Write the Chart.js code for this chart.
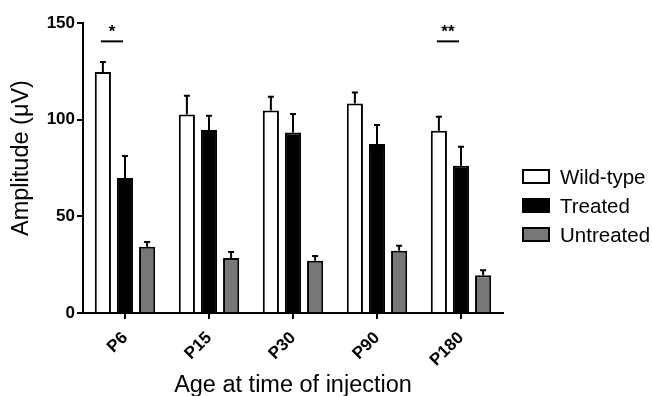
<!DOCTYPE html>
<html>
<head>
<meta charset="utf-8">
<script src="https://cdn.jsdelivr.net/npm/chart.js@4/dist/chart.umd.min.js"></script>
<style>
    html, body { margin: 0; padding: 0; background: #fff; }
    #wrap { position: relative; width: 652px; height: 396px; }
    #legend { position: absolute; left: 522px; top: 162px; font-family: "Liberation Sans", Arial, sans-serif; font-size: 20.5px; color: #000; }
    .row { display: flex; align-items: center; height: 29px; }
    .box { width: 24px; height: 11px; border: 2px solid #000; margin-right: 10px; }
</style>
</head>
<body>
<div id="wrap">
    <canvas id="chart" width="652" height="396"></canvas>
    <div id="legend"></div>
</div>
<script>
const categories = ['P6', 'P15', 'P30', 'P90', 'P180'];
const seriesNames = ['Wild-type', 'Treated', 'Untreated'];
const wildType = [124.6, 102.7, 104.8, 108.4, 94.3];
const wildTypeErr = [5.2, 9.7, 7.0, 5.7, 7.2];
const treated = [69.8, 94.6, 93.4, 87.4, 76.2];
const treatedErr = [11.4, 7.4, 9.5, 9.8, 9.8];
const untreated = [34.3, 28.4, 27.0, 32.2, 19.5];
const untreatedErr = [2.4, 3.1, 2.5, 2.6, 2.6];
const yTicks = [0, 50, 100, 150];
const sigIndex = [0, 4];
const sigText = ['*', '**'];
const sigLevel = 140.5;
const yTitle = 'Amplitude (μV)';

const fillColors = ['#ffffff', '#000000', '#777777'];
const errors = [wildTypeErr, treatedErr, untreatedErr];

// error bars, upward only
const errorBars = {
    id: 'errorBars',
    afterDatasetsDraw(chart) {
        const ctx = chart.ctx;
        const y = chart.scales.y;
        ctx.save();
        ctx.strokeStyle = '#000';
        ctx.lineWidth = 2;
        chart.data.datasets.forEach((ds, i) => {
            const meta = chart.getDatasetMeta(i);
            meta.data.forEach((bar, j) => {
                const top = y.getPixelForValue(ds.data[j] + errors[i][j]);
                ctx.beginPath();
                ctx.moveTo(bar.x, bar.y);
                ctx.lineTo(bar.x, top);
                ctx.moveTo(bar.x - 3, top);
                ctx.lineTo(bar.x + 3, top);
                ctx.stroke();
            });
        });
        ctx.restore();
    }
};

// significance lines between wild-type and treated, plus the y title
const sigMarks = {
    id: 'sigMarks',
    afterDraw(chart) {
        const ctx = chart.ctx;
        const yPix = chart.scales.y.getPixelForValue(sigLevel);
        const m0 = chart.getDatasetMeta(0), m1 = chart.getDatasetMeta(1);
        ctx.save();
        ctx.strokeStyle = '#000';
        ctx.lineWidth = 2;
        ctx.fillStyle = '#000';
        ctx.font = 'bold 17px "Liberation Sans", Arial, sans-serif';
        ctx.textAlign = 'center';
        ctx.textBaseline = 'alphabetic';
        sigIndex.forEach((idx, k) => {
            const x0 = m0.data[idx].x - 2;
            const x1 = m1.data[idx].x - 2;
            ctx.beginPath();
            ctx.moveTo(x0, yPix);
            ctx.lineTo(x1, yPix);
            ctx.stroke();
            ctx.fillText(sigText[k], (x0 + x1) / 2, yPix - 4);
        });

        const area = chart.chartArea;
        ctx.font = '23.5px "Liberation Sans", Arial, sans-serif';
        ctx.textBaseline = 'middle';
        ctx.translate(22, (area.top + area.bottom) / 2 - 10);
        ctx.rotate(-Math.PI / 2);
        ctx.fillText(yTitle, 0, 0);
        ctx.restore();
    }
};

const datasets = seriesNames.map((name, i) => ({
    label: name,
    data: [wildType, treated, untreated][i],
    backgroundColor: fillColors[i],
    borderColor: '#000',
    borderWidth: 2,
    categoryPercentage: 0.79,
    barPercentage: 0.73
}));

new Chart(document.getElementById('chart'), {
    type: 'bar',
    data: { labels: categories, datasets: datasets },
    options: {
        responsive: false,
        animation: false,
        layout: { padding: { top: 23, right: 149, left: 0, bottom: 0 } },
        plugins: { legend: { display: false }, tooltip: { enabled: false } },
        scales: {
            x: {
                grid: { offset: false, drawOnChartArea: false, tickLength: 6, lineWidth: 2, color: '#000' },
                border: { width: 2, color: '#000' },
                ticks: {
                    color: '#000', maxRotation: 45, minRotation: 45, padding: 9,
                    font: { family: '"Liberation Sans", Arial, sans-serif', size: 17, weight: 'bold' }
                },
                title: {
                    display: true, text: 'Age at time of injection', color: '#000',
                    padding: { top: 0, bottom: -4 },
                    font: { family: '"Liberation Sans", Arial, sans-serif', size: 23.5 }
                },
                afterFit(scale) { scale.height = 83; }
            },
            y: {
                min: 0, max: 150,
                afterBuildTicks(scale) { scale.ticks = yTicks.map(v => ({ value: v })); },
                grid: { drawOnChartArea: false, tickLength: 6, lineWidth: 2, color: '#000' },
                border: { width: 2, color: '#000' },
                ticks: {
                    color: '#000', padding: 2,
                    font: { family: '"Liberation Sans", Arial, sans-serif', size: 17, weight: 'bold' }
                },
                afterFit(scale) { scale.width = 83; }
            }
        }
    },
    plugins: [errorBars, sigMarks]
});

// legend built from the dataset names
const legend = document.getElementById('legend');
seriesNames.forEach((name, i) => {
    legend.innerHTML += `<div class="row"><div class="box" style="background:${fillColors[i]}"></div><span>${name}</span></div>`;
});
</script>
</body>
</html>
